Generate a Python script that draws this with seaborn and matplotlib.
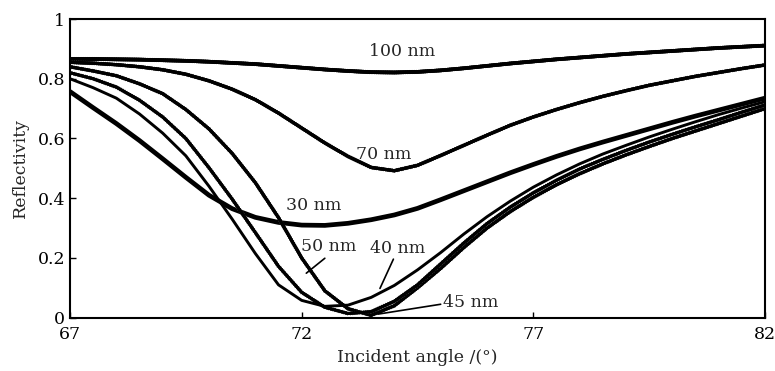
import numpy as np
import pandas as pd
import matplotlib
matplotlib.use("Agg")
import matplotlib.pyplot as plt
import matplotlib.patheffects as pe
import seaborn as sns

# incident angle grid (degrees)
angle = [67, 67.5, 68, 68.5, 69, 69.5, 70, 70.5, 71, 71.5, 72, 72.5, 73, 73.5, 74,
         74.5, 75, 75.5, 76, 76.5, 77, 77.5, 78, 78.5, 79, 79.5, 80, 80.5, 81, 81.5, 82]

# reflectivity per film thickness
r_100 = [0.866, 0.866, 0.865, 0.864, 0.862, 0.860, 0.857, 0.853, 0.849, 0.843, 0.837,
         0.831, 0.826, 0.822, 0.821, 0.823, 0.828, 0.835, 0.843, 0.851, 0.858, 0.865,
         0.871, 0.877, 0.883, 0.888, 0.893, 0.898, 0.903, 0.907, 0.911]
r_70 = [0.855, 0.852, 0.847, 0.840, 0.830, 0.815, 0.793, 0.765, 0.730, 0.685, 0.635,
        0.585, 0.540, 0.503, 0.492, 0.510, 0.543, 0.577, 0.611, 0.644, 0.672, 0.697,
        0.720, 0.741, 0.760, 0.778, 0.793, 0.808, 0.821, 0.834, 0.846]
r_30 = [0.757, 0.703, 0.650, 0.593, 0.532, 0.470, 0.410, 0.365, 0.336, 0.319, 0.310,
        0.309, 0.316, 0.328, 0.344, 0.366, 0.395, 0.425, 0.455, 0.485, 0.513, 0.540,
        0.565, 0.588, 0.610, 0.632, 0.654, 0.675, 0.695, 0.715, 0.735]
r_50 = [0.840, 0.826, 0.810, 0.783, 0.750, 0.697, 0.632, 0.550, 0.452, 0.335, 0.200,
        0.090, 0.030, 0.008, 0.040, 0.100, 0.165, 0.235, 0.300, 0.355, 0.403, 0.445,
        0.482, 0.515, 0.545, 0.573, 0.600, 0.625, 0.650, 0.675, 0.700]
r_45 = [0.820, 0.800, 0.772, 0.728, 0.672, 0.600, 0.502, 0.397, 0.285, 0.172, 0.085,
        0.035, 0.014, 0.020, 0.055, 0.110, 0.180, 0.250, 0.315, 0.370, 0.418, 0.460,
        0.498, 0.530, 0.560, 0.588, 0.614, 0.639, 0.663, 0.688, 0.712]
r_40 = [0.800, 0.770, 0.735, 0.682, 0.618, 0.542, 0.440, 0.330, 0.215, 0.110, 0.058,
        0.038, 0.042, 0.068, 0.108, 0.160, 0.218, 0.280, 0.338, 0.390, 0.437, 0.478,
        0.515, 0.548, 0.577, 0.605, 0.631, 0.656, 0.680, 0.702, 0.723]

thickness = ["100 nm", "70 nm", "30 nm", "50 nm", "45 nm", "40 nm"]
curves = [r_100, r_70, r_30, r_50, r_45, r_40]
widths = [2.6, 2.3, 3.4, 2.2, 2.1, 2.1]
fuzzy = ["100 nm", "70 nm", "50 nm", "45 nm"]

xticks = [67, 72, 77, 82]
yticks = [0, 0.2, 0.4, 0.6, 0.8, 1]
ytick_labels = ["0", "0.2", "0.4", "0.6", "0.8", "1"]

df = pd.DataFrame({
    "angle": np.tile(angle, len(curves)),
    "R": np.concatenate(curves),
    "film": np.repeat(thickness, len(angle)),
})

sns.set_style("ticks")
plt.rcParams["font.family"] = ["DejaVu Serif"]

fig = plt.figure(figsize=(7.75, 3.71), dpi=100)
ax = fig.add_axes([70 / 775, 1 - 317.7 / 371, 695 / 775, 298.7 / 371])

# marker-like fringe seen on the sampled curves
fringe = [pe.withTickedStroke(spacing=1.6, angle=60, length=0.9, linewidth=0.6,
                              foreground="0.35"),
          pe.withTickedStroke(spacing=1.6, angle=-60, length=0.9, linewidth=0.6,
                              foreground="0.35"),
          pe.Normal()]

for name, lw in zip(thickness, widths):
    sns.lineplot(data=df[df["film"] == name], x="angle", y="R", ax=ax,
                 color="black", linewidth=lw, estimator=None, sort=False,
                 legend=False)
    if name in fuzzy:
        ax.lines[-1].set_path_effects(fringe)

ax.set_xlim(67, 82)
ax.set_ylim(0, 1)
ax.set_xticks(xticks)
ax.set_xticklabels([str(t) for t in xticks])
ax.set_yticks(yticks)
ax.set_yticklabels(ytick_labels)
ax.tick_params(direction="in", length=4.5, width=1.0, labelsize=12.5,
               colors="black", pad=3.5)
ax.tick_params(axis="x", pad=6)
for s in ax.spines.values():
    s.set_linewidth(1.5)
    s.set_color("black")

ax.set_xlabel("Incident angle /(°)", fontsize=12.5, labelpad=4)
ax.set_ylabel("Reflectivity", fontsize=12.5, labelpad=6)

# curve labels
fs = 12.5
ax.text(74.16, 0.89, "100 nm", fontsize=fs, ha="center", va="center")
ax.text(73.76, 0.548, "70 nm", fontsize=fs, ha="center", va="center")
ax.text(72.27, 0.376, "30 nm", fontsize=fs, ha="center", va="center")
ax.text(72.59, 0.238, "50 nm", fontsize=fs, ha="center", va="center")
ax.text(74.07, 0.230, "40 nm", fontsize=fs, ha="center", va="center")
ax.text(75.65, 0.051, "45 nm", fontsize=fs, ha="center", va="center")

# pointer lines
ax.plot([72.5, 72.1], [0.199, 0.149], color="black", lw=1.2)
ax.plot([73.98, 73.69], [0.196, 0.098], color="black", lw=1.2)
ax.plot([75.0, 73.65], [0.045, 0.012], color="black", lw=1.2)

fig.savefig("out.png", dpi=100)
